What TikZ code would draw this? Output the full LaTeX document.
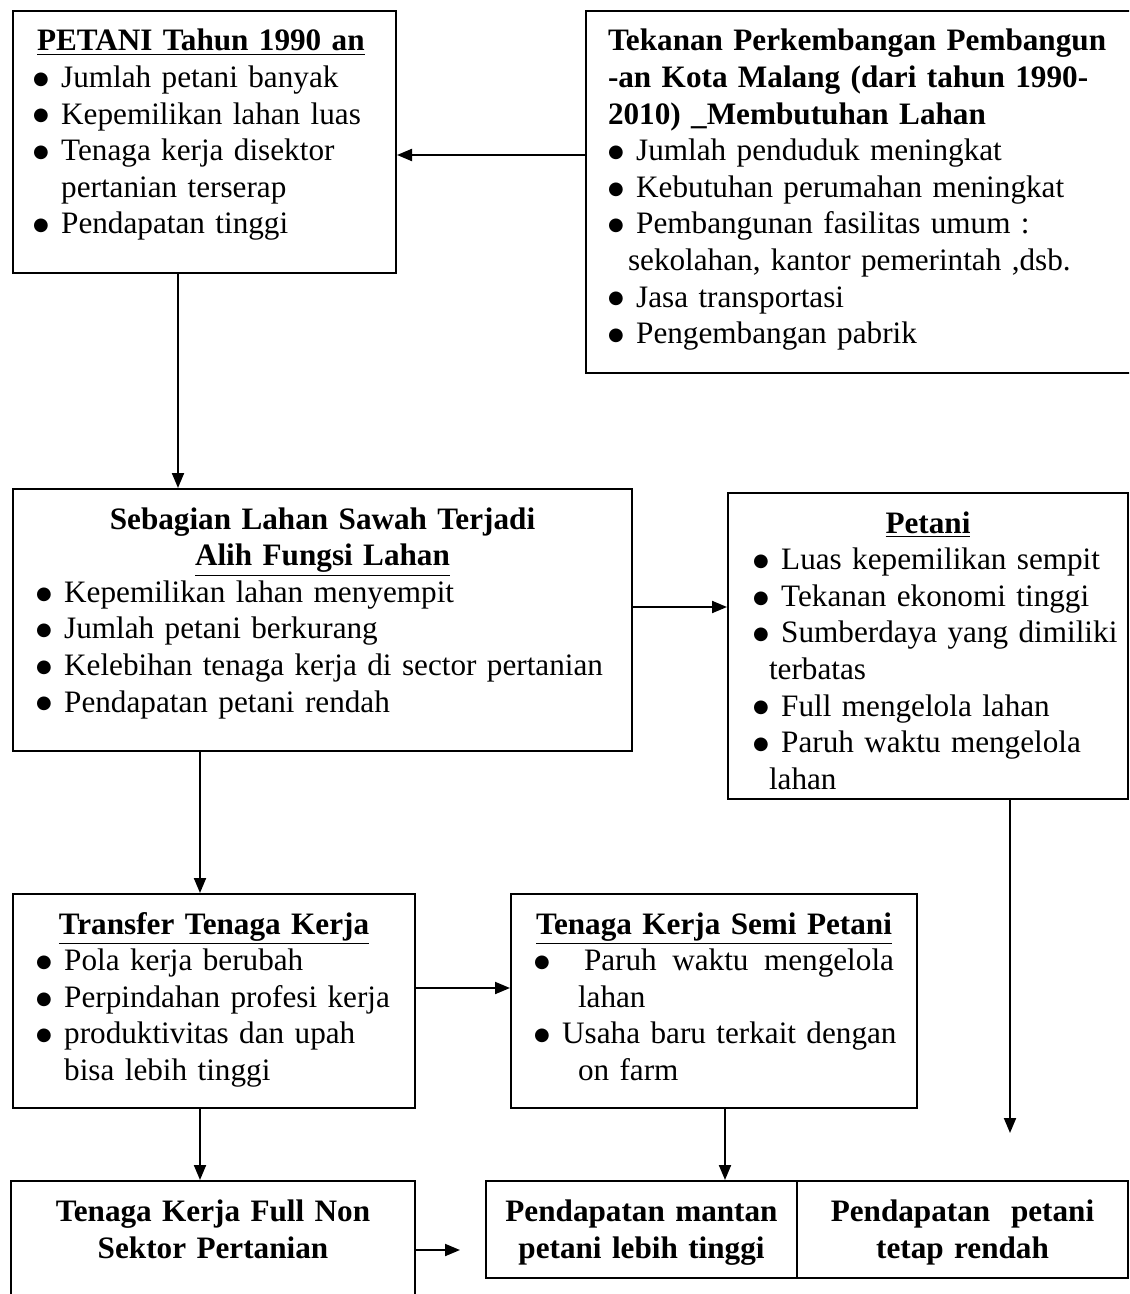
\documentclass[tikz,border=0pt]{standalone}
\usepackage{fontspec}
\setmainfont{Liberation Serif}
\newfontfamily\simbol{DejaVu Sans}
\usetikzlibrary{arrows.meta}

\newcommand{\bul}{\raisebox{1.6pt}{\simbol\fontsize{9pt}{9pt}\selectfont ●}}
\newcommand{\itm}[1]{\mbox{\bul\hspace{0.4em}#1}}
\newcommand{\cnt}[1]{\mbox{\hphantom{\bul\hspace{0.4em}}#1}}
\newcommand{\ttl}[1]{\makebox[\linewidth][c]{\bfseries #1}}

\tikzset{
  kotak/.style={rectangle, draw, line width=1pt, anchor=north west, inner ysep=0pt,
    text height=20pt, align=left, font=\fontsize{15.6pt}{18.3pt}\selectfont},
  hasil/.style={kotak, align=center, font=\fontsize{15.6pt}{18.8pt}\selectfont\bfseries}
}

\begin{document}
\begin{tikzpicture}[x=0.5pt, y=-0.5pt, line width=1pt, >={Triangle[length=7.5pt,width=6pt]}]
  \useasboundingbox (0,0) rectangle (1129,1294);
  \clip (0,0) rectangle (1129,1294);

  % Nodes
  \node [kotak, inner xsep=10pt, text width=171.5pt, text depth=111pt] (petani90) at (12,10)
    {\hspace*{2pt}\textbf{\underline{PETANI Tahun 1990 an}}\\
     \itm{Jumlah petani banyak}\\
     \itm{Kepemilikan lahan luas}\\
     \itm{Tenaga kerja disektor}\\
     \cnt{pertanian terserap}\\
     \itm{Pendapatan tinggi}};
  \node [kotak, inner xsep=11pt, text width=255.5pt, text depth=161pt] (tekanan) at (585,10)
    {\mbox{\bfseries Tekanan Perkembangan Pembangun}\\
     \mbox{\bfseries -an Kota Malang (dari tahun 1990-}\\
     \mbox{\bfseries 2010) \_Membutuhan Lahan}\\
     \itm{Jumlah penduduk meningkat}\\
     \itm{Kebutuhan perumahan meningkat}\\
     \itm{Pembangunan fasilitas umum :}\\
     \mbox{\hspace*{10pt}sekolahan, kantor pemerintah ,dsb.}\\
     \itm{Jasa transportasi}\\
     \itm{Pengembangan pabrik}};
  \node [kotak, inner xsep=11.5pt, text width=286.5pt, text depth=111pt] (sebagian) at (12,488)
    {\ttl{Sebagian Lahan Sawah Terjadi}\\
     \ttl{\underline{Alih Fungsi Lahan}}\\
     \itm{Kepemilikan lahan menyempit}\\
     \itm{Jumlah petani berkurang}\\
     \itm{Kelebihan tenaga kerja di sector pertanian}\\
     \itm{Pendapatan petani rendah}};
  \node [kotak, inner xsep=12.5pt, text width=175pt, text depth=133pt] (petani) at (727,492)
    {\ttl{\underline{Petani}}\\
     \itm{Luas kepemilikan sempit}\\
     \itm{Tekanan ekonomi tinggi}\\
     \itm{Sumberdaya yang dimiliki}\\
     \mbox{\hspace*{8pt}terbatas}\\
     \itm{Full mengelola lahan}\\
     \itm{Paruh waktu mengelola}\\
     \mbox{\hspace*{8pt}lahan}};
  \node [kotak, inner xsep=11.5pt, text width=178pt, text depth=87pt] (transfer) at (12,893)
    {\ttl{\underline{Transfer Tenaga Kerja}}\\
     \itm{Pola kerja berubah}\\
     \itm{Perpindahan profesi kerja}\\
     \itm{produktivitas dan upah}\\
     \cnt{bisa lebih tinggi}};
  \node [kotak, inner xsep=11.5pt, text width=180pt, text depth=87pt] (semi) at (510,893)
    {\ttl{\underline{Tenaga Kerja Semi Petani}}\\
     \makebox[\linewidth][s]{\bul\hspace{1.1em}Paruh\hfill waktu\hfill mengelola}\\
     \mbox{\hspace*{22pt}lahan}\\
     \itm{Usaha baru terkait dengan}\\
     \mbox{\hspace*{22pt}on farm}};
  \node [hasil, inner xsep=11pt, text width=180pt, text depth=45pt] (fullnon) at (10,1180)
    {Tenaga Kerja Full Non\\ Sektor Pertanian};
  \node [hasil, inner xsep=2.75pt, text width=150pt, text depth=28.5pt] (mantan) at (485,1180)
    {Pendapatan mantan\\ petani lebih tinggi};
  \node [hasil, inner xsep=5pt, text width=155.5pt, text depth=28.5pt] (rendah) at (796,1180)
    {Pendapatan~ petani\\ tetap rendah};

  \coordinate (ujungkanan) at (1010,1133);
  \coordinate (ujungbawah) at (460,1250);

  % Edges
  \draw [->] (tekanan.west |- 0,155) -- (petani90.east |- 0,155);
  \draw [->] (petani90.south -| 178,0) -- (sebagian.north -| 178,0);
  \draw [->] (sebagian.east |- 0,607) -- (petani.west |- 0,607);
  \draw [->] (sebagian.south -| 200,0) -- (transfer.north -| 200,0);
  \draw [->] (transfer.east |- 0,988) -- (semi.west |- 0,988);
  \draw [->] (transfer.south -| 200,0) -- (fullnon.north -| 200,0);
  \draw [->] (semi.south -| 725,0) -- (mantan.north -| 725,0);
  \draw [->] (petani.south -| ujungkanan) -- (ujungkanan);
  \draw [->] (fullnon.east |- ujungbawah) -- (ujungbawah);
\end{tikzpicture}
\end{document}
